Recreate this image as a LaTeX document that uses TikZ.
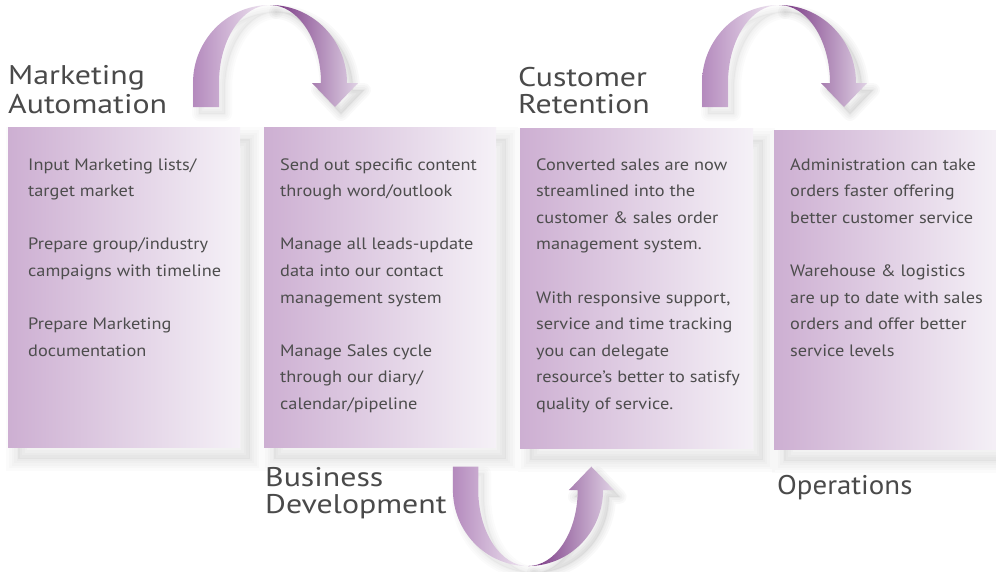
\documentclass[tikz,border=0pt]{standalone}
\usepackage{fontspec}
\setmainfont{PT Sans}
\newfontfamily\bodyfont{PT Sans}[FakeStretch=1.11]
\newfontfamily\ttlfont{PT Sans}[FakeStretch=1.18]
\newfontfamily\opsfont{PT Sans}[FakeStretch=1.07]
\definecolor{txt}{HTML}{4D4D4D}
\definecolor{ttl}{HTML}{4A4A4A}
\definecolor{boxL}{HTML}{CDAFD2}
\definecolor{boxR}{HTML}{F5F1F7}
\definecolor{arLdark}{HTML}{B48ABD}
\definecolor{arLlight}{HTML}{F1E9F3}
\definecolor{arRdark}{HTML}{74307F}
\definecolor{arRlight}{HTML}{E0D2E5}
\newcommand\pieceL{(-77,24) -- (-77,0) arc[start angle=180,end angle=270,x radius=77,y radius=78] arc[start angle=270,end angle=180,x radius=51,y radius=78] -- (-51,24) -- cycle}
\newcommand\pieceR{(0,-78) arc[start angle=270,end angle=360,x radius=77,y radius=78] -- (88,0) -- (65,24) -- (42,0) -- (51,0) arc[start angle=0,end angle=-90,x radius=51,y radius=78] -- cycle}
\newcommand\curvedarrow[2]{%
  \begin{scope}[#1]
    \begin{scope}[shift={#2}]
      \foreach \w in {2,6,10,14}{%
        \draw[black,opacity=0.025,line width=\w pt,line join=round] \pieceR;
        \draw[black,opacity=0.015,line width=\w pt,line join=round] \pieceL;}
      \fill[black,opacity=0.05] \pieceR;
      \fill[black,opacity=0.03] \pieceL;
    \end{scope}
    \shade[left color=arLdark,right color=arLlight] \pieceL;
    \shade[left color=arRdark,right color=arRlight] \pieceR;
  \end{scope}}
\newcommand\panelshadow[4]{%
  \fill[black,opacity=0.035] (#1+10,#2+12) rectangle (#3+10,#4+12);
  \foreach \w in {3,8,13,18,24}{%
    \draw[black,opacity=0.017,line width=\w pt] (#1+10,#2+12) rectangle (#3+10,#4+12);}}
\newcommand\tl[4]{\node[bodytxt] (#1) at (#2,{170+26.6*#3}) {#4};}
\begin{document}
\begin{tikzpicture}[x=1pt,y=-1pt,
  bodytxt/.style={anchor=base west,inner sep=0pt,text=txt,font=\bodyfont\fontsize{16.5}{18}\selectfont},
  ttltxt/.style={anchor=base west,inner sep=0pt,text=ttl,font=\ttlfont\fontsize{27}{28}\selectfont},
  opstxt/.style={anchor=base west,inner sep=0pt,text=ttl,font=\opsfont\fontsize{27}{28}\selectfont},
  panel/.style={anchor=north west,inner sep=0pt,left color=boxL,right color=boxR,draw=none}]
\fill[white] (0,0) rectangle (996,571);
\useasboundingbox (0,0) rectangle (996,571);
% shadows of panels
\panelshadow{8}{127}{240}{447}
\panelshadow{264}{127}{496}{447}
\panelshadow{520}{128}{753}{448}
\panelshadow{774}{130}{1000}{449}
% panels
\node[panel,minimum width=232pt,minimum height=320pt] (p1) at (8,127) {};
\node[panel,minimum width=232pt,minimum height=320pt] (p2) at (264,127) {};
\node[panel,minimum width=233pt,minimum height=320pt] (p3) at (520,128) {};
\node[panel,minimum width=226pt,minimum height=319pt] (p4) at (774,130) {};
% arrows
\curvedarrow{shift={(270,83)}}{(6,7)}
\curvedarrow{shift={(779,83)}}{(6,7)}
\curvedarrow{shift={(528,490)},xscale=0.975,yscale=-0.975}{(6,-7)}
% titles
\node[ttltxt] (t1a) at (8,84) {Marketing};
\node[ttltxt] (t1b) at (8,113) {Automation};
\node[ttltxt] (t2a) at (265,486) {Business};
\node[ttltxt] (t2b) at (265,513) {Development};
\node[ttltxt] (t3a) at (518,86) {Customer};
\node[ttltxt] (t3b) at (518,113) {Retention};
\node[opstxt] (t4a) at (777,494) {Operations};
% box 1 text
\tl{a1}{28}{0}{Input Marketing lists/}
\tl{a2}{28}{1}{target market}
\tl{a3}{28}{3}{Prepare group/industry}
\tl{a4}{28}{4}{campaigns with timeline}
\tl{a5}{28}{6}{Prepare Marketing}
\tl{a6}{28}{7}{documentation}
% box 2 text
\tl{b1}{280}{0}{Send out specific content}
\tl{b2}{280}{1}{through word/outlook}
\tl{b3}{280}{3}{Manage all leads-update}
\tl{b4}{280}{4}{data into our contact}
\tl{b5}{280}{5}{management system}
\tl{b6}{280}{7}{Manage Sales cycle}
\tl{b7}{280}{8}{through our diary/}
\tl{b8}{280}{9}{calendar/pipeline}
% box 3 text
\tl{c1}{536}{0}{Converted sales are now}
\tl{c2}{536}{1}{streamlined into the}
\tl{c3}{536}{2}{customer \& sales order}
\tl{c4}{536}{3}{management system.}
\tl{c5}{536}{5}{With responsive support,}
\tl{c6}{536}{6}{service and time tracking}
\tl{c7}{536}{7}{you can delegate}
\tl{c8}{536}{8}{resource’s better to satisfy}
\tl{c9}{536}{9}{quality of service.}
% box 4 text
\tl{d1}{790}{0}{Administration can take}
\tl{d2}{790}{1}{orders faster offering}
\tl{d3}{790}{2}{better customer service}
\tl{d4}{790}{4}{Warehouse \& logistics}
\tl{d5}{790}{5}{are up to date with sales}
\tl{d6}{790}{6}{orders and offer better}
\tl{d7}{790}{7}{service levels}
\end{tikzpicture}
\end{document}
